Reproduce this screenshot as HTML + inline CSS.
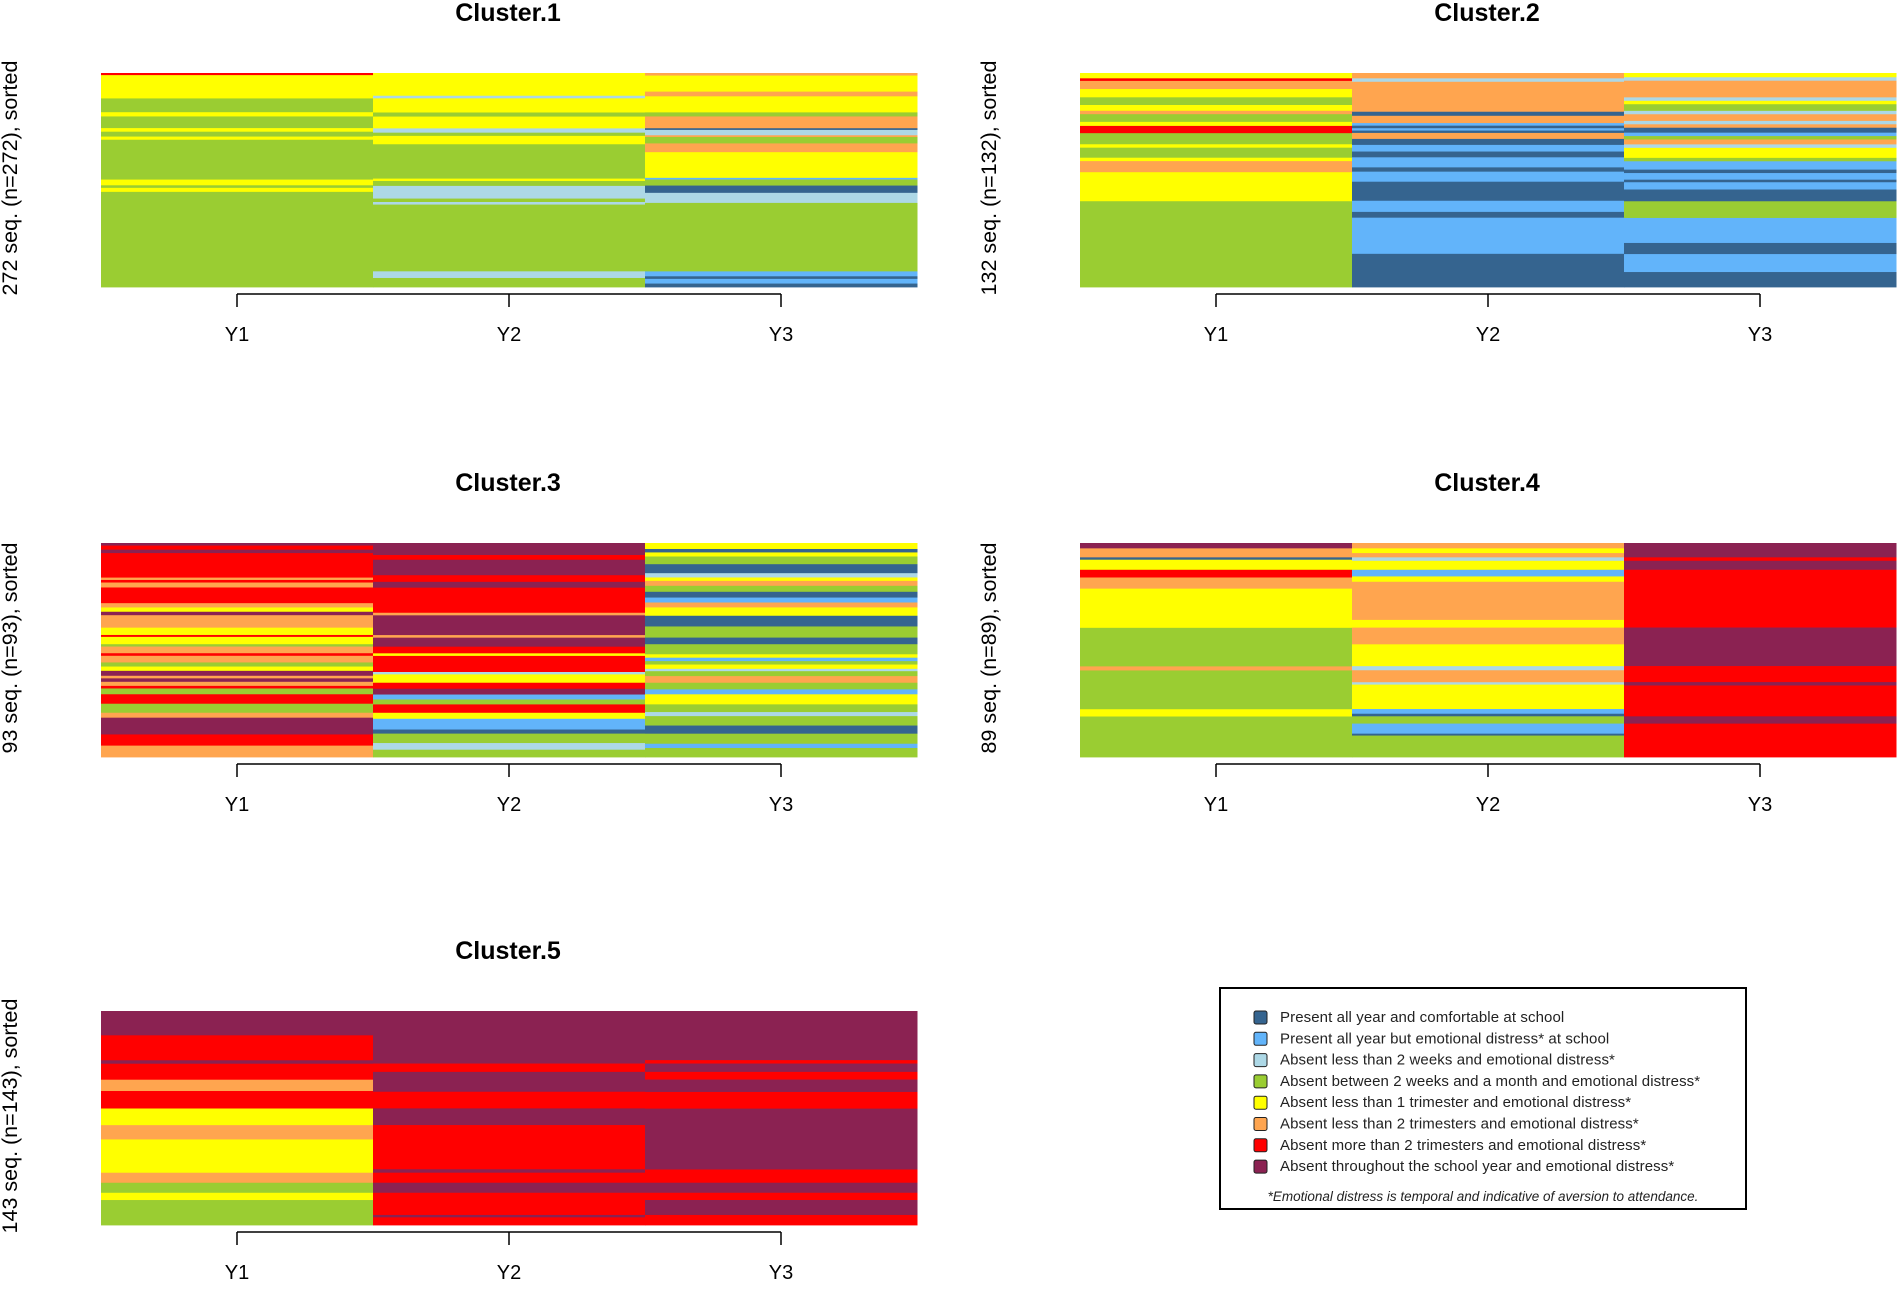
<!DOCTYPE html>
<html><head><meta charset="utf-8"><style>
body{margin:0;background:#fff;}
svg text{font-family:"Liberation Sans",Arial,sans-serif;}
</style></head><body>
<svg id="chart" width="1900" height="1284" viewBox="0 0 1900 1284"></svg>
<script>
const stateColors=["#35648F","#62B4FA","#ADD8E6","#9ACD32","#FFFF00","#FFA54F","#FF0000","#8B2252"];
const stateLabels=["Present all year and comfortable at school","Present all year but emotional distress* at school","Absent less than 2 weeks and emotional distress*","Absent between 2 weeks and a month and emotional distress*","Absent less than 1 trimester and emotional distress*","Absent less than 2 trimesters and emotional distress*","Absent more than 2 trimesters and emotional distress*","Absent throughout the school year and emotional distress*"];
const years=["Y1","Y2","Y3"];
const clusterNames=["Cluster.1","Cluster.2","Cluster.3","Cluster.4","Cluster.5"];
const clusterN=[272,132,93,89,143];
// segments: [state, share of rows (%)], top to bottom
const c1y1=[[6,1],[4,11],[3,6.5],[4,2],[3,5.5],[4,1.7],[3,2.3],[4,1.5],[3,18.8],[4,2.7],[3,1.2],[4,1.9],[3,44.9]];
const c1y2=[[4,10.6],[2,1.2],[4,6.6],[3,1.9],[4,5.5],[2,2],[3,1.5],[4,3.9],[3,16],[4,1.1],[3,2.3],[2,3.1],[2,2.8],[3,1.6],[2,1.2],[3,31.1],[2,3.1],[3,4.2]];
const c1y3=[[5,1.2],[4,7.5],[5,2.2],[4,7.5],[3,1.9],[5,5.5],[0,0.8],[2,2.5],[5,0.8],[3,3],[5,4.1],[4,12],[1,0.8],[3,2.8],[0,3.4],[2,4.7],[3,32],[1,2.3],[0,1.2],[1,2.2],[0,1.6]];
const c2y1=[[4,2.5],[6,1.2],[5,3.8],[4,3.9],[3,3.6],[4,2.7],[5,1.6],[3,3.6],[4,1.9],[6,3.4],[3,5.2],[4,1.6],[3,4.7],[4,1.6],[5,5.2],[4,13.6],[3,40.2]];
const c2y2=[[5,2.5],[2,1.6],[5,14],[0,1.9],[5,3.4],[1,1.2],[0,1.2],[1,1.1],[0,1.1],[5,2.8],[0,2.8],[1,3.1],[0,2.7],[1,4.7],[0,2],[1,4.7],[0,8.9],[1,5.2],[0,2.7],[1,16.9],[0,15.5]];
const c2y3=[[4,2],[2,1.6],[5,7.8],[2,1.6],[4,1.6],[3,3.1],[2,1.6],[5,3.1],[2,1.6],[5,1.6],[0,2.3],[1,1.6],[3,1.6],[5,2.3],[2,1.6],[4,4.7],[3,1.6],[1,3.9],[0,1.6],[1,3.1],[0,1.2],[1,3.4],[0,5.5],[3,7.8],[1,11.7],[0,5.2],[1,8.4],[0,7]];
const c3y1=[[7,1.2],[6,1.9],[7,1.6],[6,11.4],[5,1.1],[6,1.2],[5,2.3],[6,7.3],[5,2],[4,2],[7,1.6],[5,5.8],[4,3.4],[6,0.9],[4,3.4],[3,1.1],[5,3.1],[6,1.2],[5,3.1],[3,1.9],[4,2],[7,2.3],[5,1.2],[7,1.6],[5,1.9],[6,1.2],[3,2.7],[6,4.4],[3,4.2],[5,2.3],[7,7.8],[6,5.2],[5,5.3]];
const c3y2=[[7,5.6],[6,2.2],[7,7.2],[6,3.1],[7,2.7],[6,11.7],[5,1.2],[7,9.2],[5,1.2],[7,4.2],[6,3.1],[4,1.2],[6,7.5],[2,1.1],[4,3.9],[6,2.8],[7,2.7],[1,2.3],[3,2.3],[6,3.9],[4,2.8],[1,5],[0,1.9],[3,4.4],[2,3.1],[3,3.4]];
const c3y3=[[4,2.8],[0,1.6],[4,1.9],[3,3.6],[0,4.2],[2,2],[4,1.6],[5,2.3],[3,2.8],[0,2.7],[1,2.3],[5,2.3],[4,3.9],[0,5],[3,5.2],[0,3.1],[3,4.7],[4,1.6],[1,1.6],[3,1.6],[4,2],[2,1.1],[3,2.3],[5,3.1],[3,3.1],[1,2.3],[4,4.7],[3,3.6],[2,1.9],[3,4.4],[0,3.8],[3,4.7],[1,2],[3,4.2]];
const c4y1=[[7,2.5],[5,4.2],[0,1.1],[4,4.7],[6,3.6],[5,5.2],[4,18.3],[3,18],[5,1.9],[3,18.1],[4,3.4],[3,18.9]];
const c4y2=[[5,2.5],[4,2.2],[5,2],[2,1.6],[4,4.2],[1,3.1],[4,2.5],[5,17.8],[4,3.6],[5,7.8],[4,10.2],[2,1.9],[5,5.6],[2,1.1],[4,11.4],[1,2.2],[0,1.2],[3,3.4],[1,4.7],[0,0.9],[3,10]];
const c4y3=[[7,6.7],[6,1.6],[7,4.2],[6,27],[7,18],[6,7.5],[7,1.6],[6,14.4],[7,3.4],[6,15.6]];
const c5y1=[[7,11.4],[6,11.7],[7,1.6],[6,7.5],[5,5.3],[6,8.2],[4,7.8],[5,6.7],[4,15.6],[5,4.7],[3,4.7],[4,3.4],[3,11.7]];
const c5y2=[[7,24.6],[6,3.9],[7,9.3],[6,7.8],[7,7.8],[6,20.7],[7,1.6],[6,4.7],[7,4.7],[6,10.4],[7,1.1],[6,3.6]];
const c5y3=[[7,23],[6,1.6],[7,3.9],[6,3.6],[7,5.8],[6,7.8],[7,28.5],[6,6.2],[7,4.7],[6,3.4],[7,7],[6,4.7]];
const clusterSegs=[[c1y1,c1y2,c1y3],[c2y1,c2y2,c2y3],[c3y1,c3y2,c3y3],[c4y1,c4y2,c4y3],[c5y1,c5y2,c5y3]];

const NS="http://www.w3.org/2000/svg";
const svg=document.getElementById('chart');
function mk(tag,attrs,parent,text){const e=document.createElementNS(NS,tag);for(const k in attrs)e.setAttribute(k,attrs[k]);if(text!==undefined)e.textContent=text;(parent||svg).appendChild(e);return e;}
const panelPos=[[101,73],[1080,73],[101,543],[1080,543],[101,1011]];
const PW=816,PH=214;
clusterSegs.forEach((cols,ci)=>{
  const [px,py]=panelPos[ci];
  const g=mk('g',{});
  
  
  const colW=PW/years.length;
  const xCol=i=>px+i*colW;
  cols.forEach((segs,yi)=>{
    const total=segs.reduce((s,d)=>s+d[1],0);
    const yScale=v=>py+v/total*PH;
    let acc=0;
    segs.forEach((d,si)=>{
      const y0=yScale(acc),y1=yScale(acc+d[1]);acc+=d[1];
      const r=mk('rect',{x:xCol(yi),y:y0,width:colW+0.5,height:Math.max(0.5,y1-y0+0.4),fill:stateColors[d[0]]},g);
      
      
    });
  });
  const t=mk('text',{x:px+PW/2-1,y:py-52,'text-anchor':'middle','font-size':'25','font-weight':'bold'},g,clusterNames[ci]);
  
  
  const ax=mk('g',{},g);
  
  
  const c0=xCol(0)+colW/2,c2=xCol(2)+colW/2;
  mk('line',{x1:c0,y1:py+221,x2:c2,y2:py+221,stroke:'#000','stroke-width':1.5},ax);
  years.forEach((yl,yi)=>{
    const cx=xCol(yi)+colW/2;
    mk('line',{x1:cx,y1:py+221,x2:cx,y2:py+234,stroke:'#000','stroke-width':1.5},ax);
    const lt=mk('text',{x:cx,y:py+268,'text-anchor':'middle','font-size':'20'},ax,yl);
    
    
  });
  const yl=mk('text',{x:0,y:0,'text-anchor':'middle','font-size':'21.5',transform:'translate('+(px-84)+','+(py+PH/2-2)+') rotate(-90)'},g,clusterN[ci]+' seq. (n='+clusterN[ci]+'), sorted');
  
  
});
// legend
const lg=mk('g',{});


mk('rect',{x:1220,y:988,width:526,height:221,fill:'#fff',stroke:'#000','stroke-width':2},lg);
stateLabels.forEach((lab,i)=>{
  const y=1017+i*21.3;
  const e=mk('g',{},lg);
  
  
  mk('rect',{x:1254,y:y-6,width:13,height:13,rx:2,fill:stateColors[i],stroke:'#222','stroke-width':1},e);
  mk('text',{x:1280,y:y+5,'font-size':'15','letter-spacing':'0.1',fill:'#222'},e,lab);
});
const fn=mk('text',{x:1483,y:1201,'text-anchor':'middle','font-size':'13.5','font-style':'italic',fill:'#222'},lg,'*Emotional distress is temporal and indicative of aversion to attendance.');


</script>
</body></html>
